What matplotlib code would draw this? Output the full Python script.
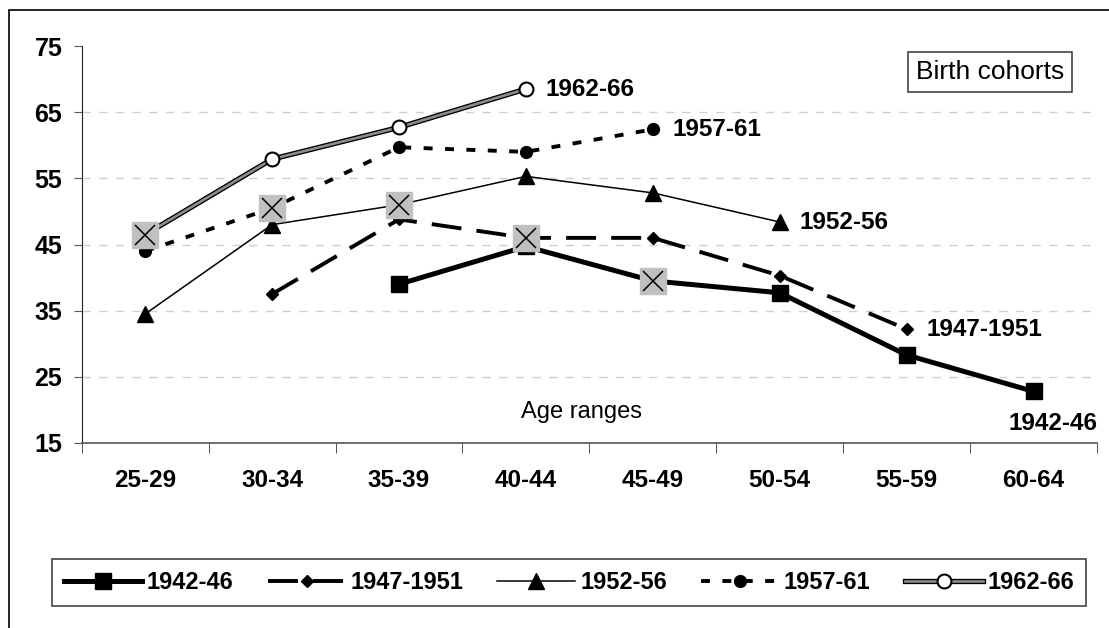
import matplotlib
matplotlib.use('Agg')
import matplotlib.pyplot as plt
from matplotlib.patches import Rectangle
from matplotlib.legend_handler import HandlerTuple
import numpy as np

plt.rcParams['font.family'] = ['Liberation Sans', 'DejaVu Sans']

# age ranges on the x axis
ages = ['25-29', '30-34', '35-39', '40-44', '45-49', '50-54', '55-59', '60-64']

# values per birth cohort (None = no observation)
c1942 = [None, None, 39.0, 44.7, 39.5, 37.7, 28.3, 22.8]
c1947 = [None, 37.5, 48.8, 46.0, 46.0, 40.3, 32.2, None]
c1952 = [34.5, 48.0, 51.0, 55.3, 52.8, 48.4, None, None]
c1957 = [44.0, 50.5, 59.7, 59.0, 62.4, None, None, None]
c1962 = [46.5, 57.9, 62.7, 68.5, None, None, None, None]

# the point of each cohort marked with a grey crossed box
highlight = {'1962-66': '25-29', '1957-61': '30-34', '1952-56': '35-39',
             '1947-1951': '40-44', '1942-46': '45-49'}

yticks = [15, 25, 35, 45, 55, 65, 75]


def arr(v):
    return np.array([np.nan if a is None else a for a in v], dtype=float)


fig = plt.figure(figsize=(11.09, 6.28), dpi=100)
ax = fig.add_axes([81.7 / 1109, 1 - 443 / 628, (1097 - 81.7) / 1109, (443 - 46) / 628])
x = np.arange(len(ages))

# grid lines (not on the frame values)
for yv in yticks[1:-1]:
    ax.axhline(yv, color='#cfcfcf', lw=1, dashes=(6, 6), zorder=0)

l42, = ax.plot(x, arr(c1942), color='black', lw=3.6, marker='s', ms=11,
               label='1942-46', zorder=3)
l47, = ax.plot(x, arr(c1947), color='black', lw=2.8, dashes=(7.7, 3.9),
               marker='D', ms=6.5, label='1947-1951', zorder=3)
l52, = ax.plot(x, arr(c1952), color='black', lw=1.1, marker='^', ms=12,
               label='1952-56', zorder=3)
l57, = ax.plot(x, arr(c1957), color='black', lw=2.8, dashes=(2.3, 3.2),
               marker='o', ms=8.5, label='1957-61', zorder=3)
l62a, = ax.plot(x, arr(c1962), color='black', lw=3.8, zorder=3)
l62b, = ax.plot(x, arr(c1962), color='#8c8c8c', lw=1.9, zorder=3)
l62m, = ax.plot(x, arr(c1962), ls='none', marker='o', ms=10, mfc='white',
                mec='black', mew=1.5, zorder=4)

series = {'1942-46': c1942, '1947-1951': c1947, '1952-56': c1952,
          '1957-61': c1957, '1962-66': c1962}

for name, age in highlight.items():
    i = ages.index(age)
    yv = series[name][i]
    ax.plot(i, yv, ls='none', marker='s', ms=18.5, mfc='#c0c0c0', mec='#c0c0c0', zorder=6)
    ax.plot(i, yv, ls='none', marker='x', ms=15, mec='black', mew=1.1, zorder=7)

# cohort labels at line ends
lab_kw = dict(textcoords='offset points', fontsize=17.5, fontweight='bold',
              va='center', ha='left')
for name, vals in series.items():
    idx = max(i for i, v in enumerate(vals) if v is not None)
    if name == '1942-46':
        ax.annotate(name, (idx, vals[idx]), xytext=(14, -23), **dict(lab_kw, ha='center'))
    else:
        ax.annotate(name, (idx, vals[idx]), xytext=(14, 0), **lab_kw)

ax.text(0.4927, 0.078, 'Age ranges', transform=ax.transAxes, ha='center',
        va='center', fontsize=17)

ax.set_xlim(-0.5, len(ages) - 0.5)
ax.set_ylim(15, 75)
ax.set_yticks(yticks)
ax.set_xticks(x)
ax.set_xticklabels(ages, fontweight='bold', fontsize=17.5)
ax.set_xticks(np.arange(-0.5, len(ages)), minor=True)
ax.tick_params(axis='x', which='major', length=0, pad=19)
ax.tick_params(axis='x', which='minor', length=7, direction='out', color='#333333')
ax.tick_params(axis='y', length=6, direction='out', color='#555555', pad=8, labelsize=18)
for t in ax.get_yticklabels():
    t.set_fontweight('bold')

for s in ['top', 'right']:
    ax.spines[s].set_visible(False)
ax.spines['left'].set_color('#222222')
ax.spines['bottom'].set_color('#555555')
ax.spines['bottom'].set_linewidth(1.2)

# legend at the bottom
leg = fig.legend([l42, l47, l52, l57, (l62a, l62b, l62m)],
                 ['1942-46', '1947-1951', '1952-56', '1957-61', '1962-66'],
                 handler_map={tuple: HandlerTuple(ndivide=1, pad=0)},
                 loc='lower left', ncol=5, mode='expand',
                 bbox_to_anchor=(52 / 1109, 1 - 606 / 628, (1086 - 52) / 1109, 57 / 628),
                 prop={'weight': 'bold', 'size': 17}, handlelength=3.3,
                 handletextpad=0.2, borderaxespad=0, fancybox=False,
                 edgecolor='#444444', framealpha=1, borderpad=0.5)
leg.get_frame().set_linewidth(1.2)

# legend title box
fig.text(990 / 1109, 1 - 72 / 628, 'Birth cohorts', ha='center', va='center',
         fontsize=19, bbox=dict(boxstyle='square,pad=0.3', fc='white',
                                ec='#444444', lw=1.2))

# outer frame
fig.patches.append(Rectangle((9 / 1109, -0.05), 1.1, 1.05 - 10 / 628,
                             transform=fig.transFigure, fill=False,
                             ec='black', lw=1.2))

fig.savefig('out.png', dpi=100)
